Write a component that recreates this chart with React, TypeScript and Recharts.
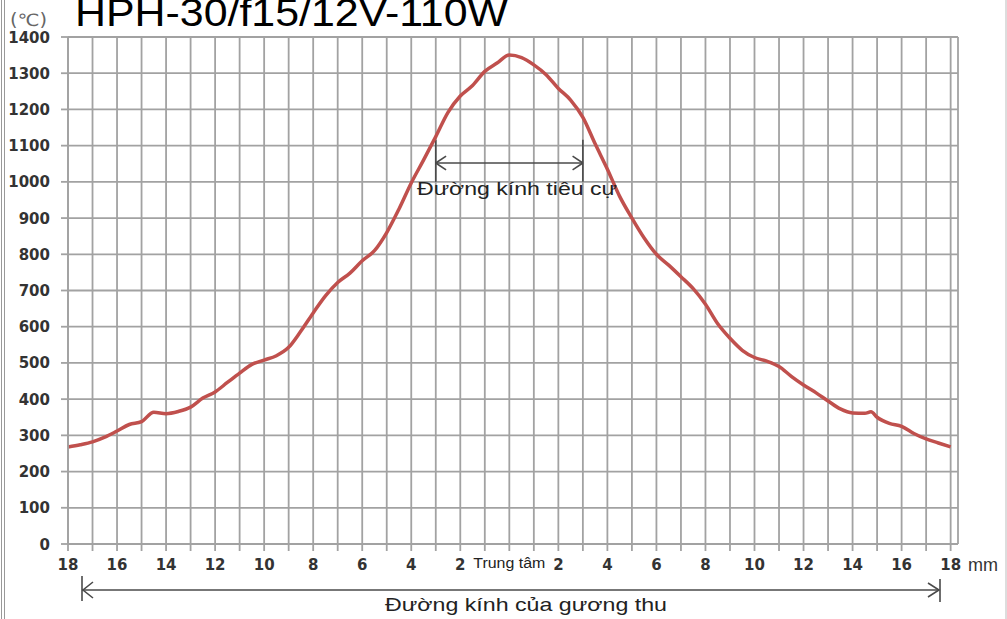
import React from 'react';
import { LineChart, Line, XAxis, YAxis, CartesianGrid, ReferenceLine } from 'recharts';

// ---- data ----
const POSITION_MM = [
  -18, -17.5, -17, -16.5, -16, -15.5, -15, -14.5, -14, -13.5, -13, -12.5, -12, -11.5, -11, -10.5,
  -10, -9.5, -9, -8.5, -8, -7.5, -7, -6.5, -6, -5.5, -5, -4.5, -4, -3.5, -3, -2.5, -2, -1.5, -1,
  -0.5, 0, 0.5, 1, 1.5, 2, 2.5, 3, 3.5, 4, 4.5, 5, 5.5, 6, 6.5, 7, 7.5, 8, 8.5, 9, 9.5, 10, 10.5,
  11, 11.5, 12, 12.5, 13, 13.5, 14, 14.5, 14.75, 15, 15.5, 16, 16.5, 17, 17.5, 18,
];
const TEMPERATURE_C = [
  268, 274, 282, 295, 312, 330, 338, 364, 360, 366, 378, 403, 420, 446, 472, 496,
  508, 520, 543, 588, 638, 685, 722, 748, 782, 810, 860, 925, 997, 1060, 1125, 1192, 1237, 1266, 1305,
  1328, 1350, 1343, 1323, 1296, 1258, 1226, 1178, 1105, 1035, 960, 900, 845, 800, 770, 738, 705, 662, 608, 568, 535, 515, 505,
  490, 463, 439, 418, 395, 373, 362, 361, 365, 350, 333, 325, 305, 290, 279, 268,
];
const X_GRID_TICKS = [
  -18, -17, -16, -15, -14, -13, -12, -11, -10, -9, -8, -7, -6, -5, -4, -3, -2, -1, 0,
  1, 2, 3, 4, 5, 6, 7, 8, 9, 10, 11, 12, 13, 14, 15, 16, 17, 18,
];
const X_LABEL_TICKS = [-18, -16, -14, -12, -10, -8, -6, -4, -2, 2, 4, 6, 8, 10, 12, 14, 16, 18];
const Y_TICKS = [0, 100, 200, 300, 400, 500, 600, 700, 800, 900, 1000, 1100, 1200, 1300, 1400];
const FOCAL_EDGES_MM = [-3, 3];
const FOCAL_BAR_RANGE = [1000, 1116];
const FOCAL_ARROW_Y = 1052;

const TITLE = 'HPH-30/f15/12V-110W';
const UNIT_Y = '(℃)';
const UNIT_X = 'mm';
const CENTER_LABEL = 'Trung tâm';
const FOCAL_LABEL = 'Đường kính tiêu cự';
const MIRROR_LABEL = 'Đường kính của gương thu';

const data = POSITION_MM.map((x, i) => ({ x, t: TEMPERATURE_C[i] }));

const GRID = '#a2a2a2';
const LABEL = '#333333';
const ANNOT = '#4a4a4a';
const W = 1007;
const H = 619;

const XTick = (props: any) => {
  const { x, y, payload } = props;
  const v = payload.value;
  if (v === 0) {
    return (
      <text x={x} y={y} dy={15} textAnchor="middle" fontFamily="Liberation Sans, Arial, sans-serif"
        fontSize={14} fill="#222" textLength={72} lengthAdjust="spacingAndGlyphs">{CENTER_LABEL}</text>
    );
  }
  if (!X_LABEL_TICKS.includes(v)) return <g />;
  return (
    <text x={x} y={y} dy={17} textAnchor="middle" fontFamily="DejaVu Sans, Verdana, sans-serif"
      fontSize={15} fontWeight="bold" fill={LABEL}>{Math.abs(v)}</text>
  );
};

const YTick = (props: any) => {
  const { x, y, payload } = props;
  return (
    <text x={x} y={y} dy={5.5} textAnchor="end" fontFamily="DejaVu Sans, Verdana, sans-serif"
      fontSize={15} fontWeight="bold" fill={LABEL}>{payload.value}</text>
  );
};

const chevron = (x0: number, dir: number) => [
  [{ x: x0, y: FOCAL_ARROW_Y }, { x: x0 + dir * 0.42, y: FOCAL_ARROW_Y + 19 }],
  [{ x: x0, y: FOCAL_ARROW_Y }, { x: x0 + dir * 0.42, y: FOCAL_ARROW_Y - 19 }],
];

export default function App() {
  const [fl, fr] = FOCAL_EDGES_MM;
  const segs = [
    [{ x: fl, y: FOCAL_BAR_RANGE[0] }, { x: fl, y: FOCAL_BAR_RANGE[1] }],
    [{ x: fr, y: FOCAL_BAR_RANGE[0] }, { x: fr, y: FOCAL_BAR_RANGE[1] }],
    [{ x: fl, y: FOCAL_ARROW_Y }, { x: fr, y: FOCAL_ARROW_Y }],
    ...chevron(fl, 1),
    ...chevron(fr, -1),
  ];
  return (
    <div style={{ position: 'absolute', left: 0, top: 0, width: W, height: H, background: '#fff' }}>
      <LineChart width={W} height={H} data={data} margin={{ top: 37, right: 49, left: 0, bottom: 45 }}>
        <CartesianGrid stroke={GRID} strokeWidth={1.8} />
        <XAxis dataKey="x" type="number" domain={[-18, 18.3]} ticks={X_GRID_TICKS} interval={0}
          tickSize={7} tickMargin={2} tickLine={{ stroke: GRID, strokeWidth: 1.8 }}
          axisLine={{ stroke: GRID, strokeWidth: 1.8 }} tick={XTick} height={30} />
        <YAxis type="number" domain={[0, 1400]} ticks={Y_TICKS} interval={0} width={68}
          tickSize={7} tickMargin={11} tickLine={{ stroke: GRID, strokeWidth: 1.8 }}
          axisLine={{ stroke: GRID, strokeWidth: 1.8 }} tick={YTick} />
        {segs.map((s, i) => (
          <ReferenceLine key={i} segment={s as any} stroke={ANNOT} strokeWidth={1.6} />
        ))}
        <Line dataKey="t" type="monotone" stroke="#c0504d" strokeWidth={3.5} dot={false}
          isAnimationActive={false} />
      </LineChart>
      <svg width={W} height={H} style={{ position: 'absolute', left: 0, top: 0, pointerEvents: 'none' }}>
        <line x1={1.5} y1={0} x2={1.5} y2={H} stroke="#999" strokeWidth={1} />
        <line x1={4.5} y1={0} x2={4.5} y2={H} stroke="#999" strokeWidth={1} />
        <line x1={1006} y1={0} x2={1006} y2={H} stroke="#bbb" strokeWidth={1} />
        <text x={75} y={26} fontFamily="Liberation Sans, Arial, sans-serif" fontSize={38} fill="#000"
          textLength={433} lengthAdjust="spacingAndGlyphs">{TITLE}</text>
        <text x={10} y={26} fontFamily="DejaVu Sans, sans-serif" fontSize={17} fill="#666"
          textLength={37} lengthAdjust="spacingAndGlyphs">{UNIT_Y}</text>
        <text x={968} y={571} fontFamily="Liberation Sans, Arial, sans-serif" fontSize={18} fill="#333"
          textLength={30} lengthAdjust="spacingAndGlyphs">{UNIT_X}</text>
        <text x={417} y={195} fontFamily="Liberation Sans, Arial, sans-serif" fontSize={18} fill="#222"
          textLength={200} lengthAdjust="spacingAndGlyphs">{FOCAL_LABEL}</text>
        <text x={385} y={611} fontFamily="Liberation Sans, Arial, sans-serif" fontSize={19} fill="#222"
          textLength={282} lengthAdjust="spacingAndGlyphs">{MIRROR_LABEL}</text>
        <g stroke={ANNOT} strokeWidth={1.6} fill="none">
          <line x1={82} y1={576} x2={82} y2={601} />
          <line x1={82} y1={590} x2={939} y2={590} />
          <polyline points="93,582 83,590 93,598" />
          <line x1={940} y1={579} x2={940} y2={602} />
          <polyline points="928,583 939,590 928,597" />
        </g>
      </svg>
    </div>
  );
}
